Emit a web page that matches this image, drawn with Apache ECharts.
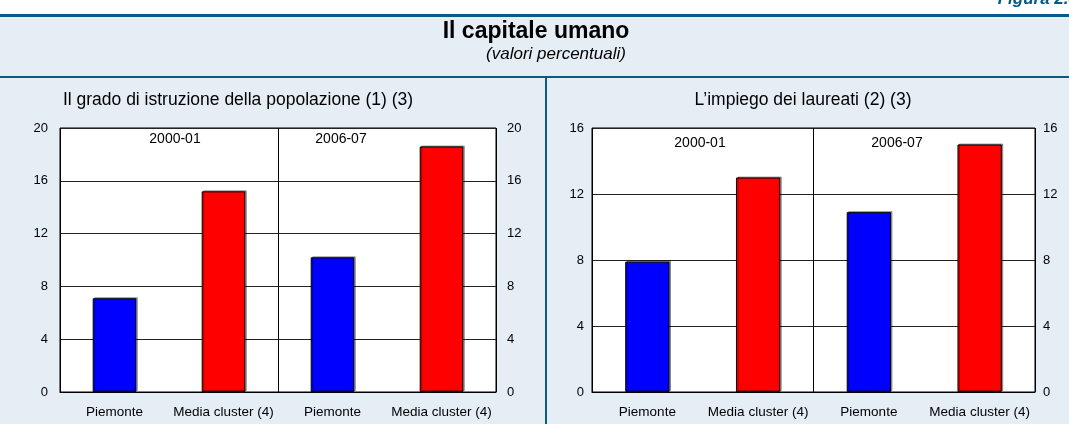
<!DOCTYPE html>
<html>
<head>
<meta charset="utf-8">
<script src="https://cdn.jsdelivr.net/npm/echarts@6/dist/echarts.min.js"></script>
<style>
  html, body { margin: 0; padding: 0; background: #fff; }
  #chart { width: 1069px; height: 424px; }
</style>
</head>
<body>
<div id="chart"></div>
<script>
// categorie e valori
const categories = ["Piemonte", "Media cluster (4)", "Piemonte", "Media cluster (4)"];
const periods = ["2000-01", "2006-07"];
const istruzione = [7.1, 15.2, 10.2, 18.6];
const laureati = [7.9, 13.0, 10.9, 15.0];
const ticksLeft = { min: 0, max: 20, interval: 4 };
const ticksRight = { min: 0, max: 16, interval: 4 };

const blu = "#0000ff";
const rosso = "#ff0000";
const bordo = "#0b5a84";
const font = "'Liberation Sans', Arial, sans-serif";

const chart = echarts.init(document.getElementById("chart"));

const makeX = (gridIndex) => ({
  type: "category",
  gridIndex: gridIndex,
  data: categories,
  axisLine: { lineStyle: { color: "#000", width: 1 } },
  axisTick: { show: false },
  axisLabel: { color: "#000", fontSize: 13.5, fontFamily: font, margin: 13, interval: 0 },
  splitLine: { show: false },
});

// asse nascosto dei periodi: serve solo per la linea di separazione
const makePeriodX = (gridIndex) => ({
  type: "category",
  gridIndex: gridIndex,
  position: "top",
  data: periods,
  axisLine: { show: false },
  axisTick: { show: false },
  axisLabel: { show: false },
  splitLine: { show: true, interval: 0, lineStyle: { color: "#000", width: 1 } },
});

const makeY = (gridIndex, ticks, position, margin) => ({
  type: "value",
  gridIndex: gridIndex,
  position: position,
  min: ticks.min,
  max: ticks.max,
  interval: ticks.interval,
  axisLine: { show: false },
  axisTick: { show: false },
  axisLabel: { color: "#000", fontSize: 13, fontFamily: font, margin: margin },
  splitLine: { show: position === "left", lineStyle: { color: "#222", width: 1 } },
});

const barSeries = (xi, yi, values) => ({
  type: "bar",
  xAxisIndex: xi,
  yAxisIndex: yi,
  data: values,
  barWidth: "40%",
  itemStyle: {
    color: (p) => (p.dataIndex % 2 === 0 ? blu : rosso),
    borderColor: "#000",
    borderWidth: 1,
    shadowColor: "rgba(0,0,0,0.35)",
    shadowOffsetX: 1.5,
    shadowOffsetY: -1,
  },
});

const yearText = (x, y, t) => ({
  type: "text", x: x, y: y,
  style: { text: t, fill: "#000", font: "14px " + font, align: "center", verticalAlign: "middle" },
});

const option = {
  backgroundColor: "#e6eef5",
  animation: false,
  textStyle: { fontFamily: font },
  grid: [
    { left: 60, right: 1069 - 496, top: 128, bottom: 424 - 392, show: true, backgroundColor: "#fff", borderColor: "#000", borderWidth: 1 },
    { left: 592, right: 1069 - 1035, top: 128, bottom: 424 - 392, show: true, backgroundColor: "#fff", borderColor: "#000", borderWidth: 1 },
  ],
  xAxis: [makeX(0), makeX(1), makePeriodX(0), makePeriodX(1)],
  yAxis: [
    makeY(0, ticksLeft, "left", 12),
    makeY(0, ticksLeft, "right", 11),
    makeY(1, ticksRight, "left", 8),
    makeY(1, ticksRight, "right", 8),
  ],
  series: [
    barSeries(0, 0, istruzione),
    barSeries(1, 2, laureati),
  ],
  graphic: [
    // striscia bianca in alto e filetti
    { type: "rect", shape: { x: 0, y: 0, width: 1069, height: 14 }, style: { fill: "#fff" } },
    { type: "rect", shape: { x: 0, y: 14, width: 1069, height: 3 }, style: { fill: bordo } },
    { type: "rect", shape: { x: 0, y: 76, width: 1069, height: 2 }, style: { fill: bordo } },
    { type: "rect", shape: { x: 545, y: 76, width: 2, height: 348 }, style: { fill: bordo } },
    {
      type: "text", x: 1078, y: -9,
      style: { text: "Figura 2.8", fill: bordo, font: "italic bold 17px " + font, align: "right", verticalAlign: "top" },
    },
    {
      type: "text", x: 536, y: 32,
      style: { text: "Il capitale umano", fill: "#000", font: "bold 23px " + font, align: "center", verticalAlign: "middle" },
    },
    {
      type: "text", x: 556, y: 54,
      style: { text: "(valori percentuali)", fill: "#000", font: "italic 17px " + font, align: "center", verticalAlign: "middle" },
    },
    {
      type: "text", x: 238, y: 100,
      style: { text: "Il grado di istruzione della popolazione (1) (3)", fill: "#000", font: "17.5px " + font, align: "center", verticalAlign: "middle" },
    },
    {
      type: "text", x: 803, y: 100,
      style: { text: "L\u2019impiego dei laureati (2) (3)", fill: "#000", font: "17.5px " + font, align: "center", verticalAlign: "middle" },
    },
    yearText(175, 139, periods[0]),
    yearText(341, 139, periods[1]),
    yearText(700, 143, periods[0]),
    yearText(897, 143, periods[1]),
  ],
};

chart.setOption(option);
</script>
</body>
</html>
